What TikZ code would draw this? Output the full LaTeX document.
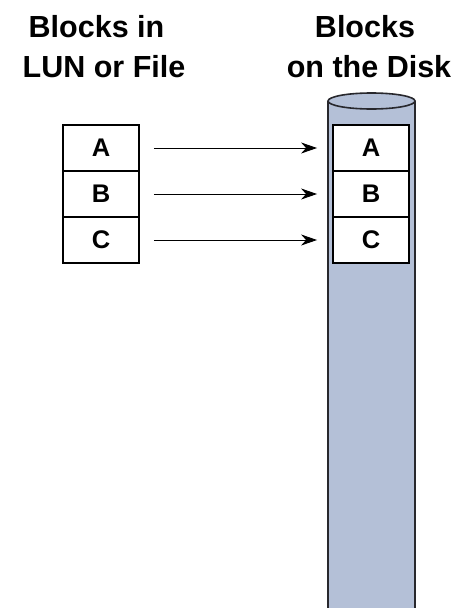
\documentclass[tikz,border=0pt]{standalone}
\usepackage{fontspec}
\setmainfont{Liberation Sans}
\usetikzlibrary{arrows.meta}
\definecolor{diskfill}{RGB}{180,192,215}
\definecolor{diskline}{RGB}{40,40,45}
\tikzset{
  title/.style={font=\fontsize{30.5}{36}\selectfont\bfseries, anchor=base, inner sep=0pt},
  blk/.style={draw=black, line width=1.8pt, fill=white, minimum width=76pt, minimum height=46pt, inner sep=0pt, font=\fontsize{25.5}{30}\selectfont\bfseries},
  link/.style={-{Stealth[length=16pt,width=11pt,inset=5pt]}, line width=1pt, shorten <=14pt, shorten >=15pt}
}
\begin{document}
\begin{tikzpicture}[x=1pt,y=-1pt]
\useasboundingbox (0,0) rectangle (470,608);
% cylinder
\fill[diskfill] (328,101) rectangle (415,620);
\draw[diskline, line width=1.8pt] (328,620) -- (328,101);
\draw[diskline, line width=1.8pt] (415,620) -- (415,101);
\draw[diskline, line width=1.6pt, fill=diskfill] (371.5,101) ellipse [x radius=43.5, y radius=8];
% titles
\node[title] (t1) at (96.5,37) {Blocks in};
\node[title] (t2) at (104,77) {LUN or File};
\node[title] (t3) at (365,37) {Blocks};
\node[title] (t4) at (369,77) {on the Disk};
% left blocks
\node[blk] (la) at (101,148) {A};
\node[blk] (lb) at (101,194) {B};
\node[blk] (lc) at (101,240) {C};
% disk blocks
\node[blk] (ra) at (371,148) {A};
\node[blk] (rb) at (371,194) {B};
\node[blk] (rc) at (371,240) {C};
% arrows
\draw[link] (la.east) -- (ra.west);
\draw[link] (lb.east) -- (rb.west);
\draw[link] (lc.east) -- (rc.west);
\end{tikzpicture}
\end{document}
